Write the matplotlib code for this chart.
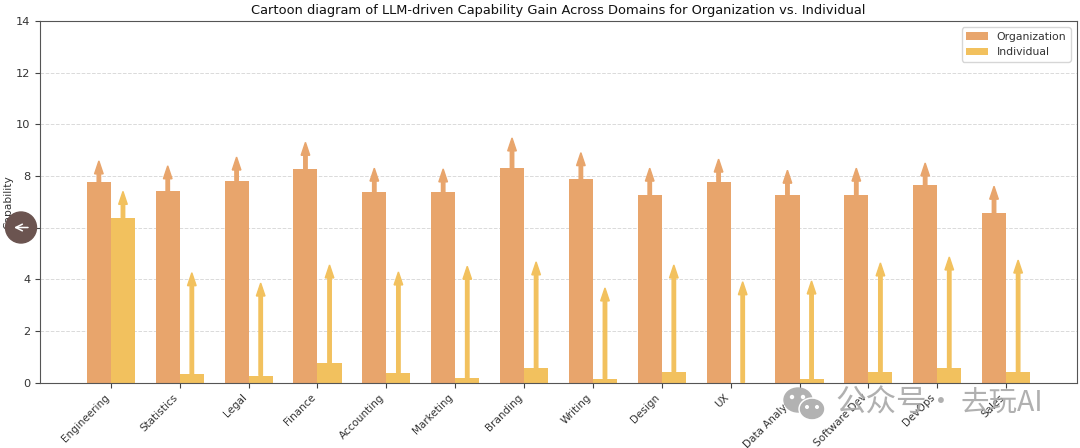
import numpy as np
import matplotlib
matplotlib.use('Agg')
import matplotlib.pyplot as plt
from matplotlib.patches import Circle, Ellipse

domains = ['Engineering', 'Statistics', 'Legal', 'Finance', 'Accounting', 'Marketing', 'Branding',
           'Writing', 'Design', 'UX', 'Data Analysis', 'Software Dev', 'DevOps', 'Sales']

# bar heights and where the arrows end
org_now = [7.75, 7.42, 7.82, 8.27, 7.38, 7.38, 8.30, 7.88, 7.27, 7.78, 7.27, 7.27, 7.65, 6.55]
org_gain = [8.58, 8.39, 8.73, 9.30, 8.30, 8.27, 9.47, 8.90, 8.30, 8.65, 8.22, 8.30, 8.50, 7.60]
ind_now = [6.38, 0.33, 0.27, 0.76, 0.38, 0.18, 0.55, 0.15, 0.42, 0.0, 0.13, 0.42, 0.55, 0.42]
ind_gain = [7.40, 4.25, 3.85, 4.55, 4.28, 4.50, 4.67, 3.66, 4.55, 3.90, 3.93, 4.63, 4.86, 4.74]

org_color = '#E8A56C'
ind_color = '#F2C15E'
bar_w = 0.35

fig = plt.figure(figsize=(10.8, 4.48), dpi=100)
ax = fig.add_axes([40 / 1080, 1 - 382.5 / 448, 1037 / 1080, 361.5 / 448])

x = np.arange(len(domains))
ax.bar(x - bar_w / 2, org_now, bar_w, color=org_color, label='Organization')
ax.bar(x + bar_w / 2, ind_now, bar_w, color=ind_color, label='Individual')

# arrows from top of each bar up to the gained capability
for i in range(len(domains)):
    ax.arrow(x[i] - bar_w / 2, org_now[i], 0, org_gain[i] - org_now[i], width=0.05, head_width=0.125,
             head_length=0.5, length_includes_head=True, color=org_color, zorder=3)
    ax.arrow(x[i] + bar_w / 2, ind_now[i], 0, ind_gain[i] - ind_now[i], width=0.05, head_width=0.125,
             head_length=0.5, length_includes_head=True, color=ind_color, zorder=3)

ax.set_xlim(-1.03, 14.03)
ax.set_ylim(0, 14)
ax.set_yticks(range(0, 15, 2))
ax.set_xticks(x)
ax.set_xticklabels(domains, rotation=45, ha='right')
ax.tick_params(labelsize=7.5, colors='#333333', color='#444444', length=3.5)
ax.tick_params(axis='y', labelsize=8.2)
ax.set_ylabel('Capability', fontsize=7.7, color='#333333', labelpad=2)
ax.set_title('Cartoon diagram of LLM-driven Capability Gain Across Domains for Organization vs. Individual',
             fontsize=9.4, color='#111111', pad=5)
ax.grid(axis='y', linestyle='--', color='#dadada', linewidth=0.7)
ax.set_axisbelow(True)
for s in ax.spines.values():
    s.set_color('#555555')
ax.legend(loc='upper right', fontsize=7.8, labelcolor='#333333', borderaxespad=0.6)

# overlay on the screenshot: back button and watermark
overlay = fig.add_axes([0, 0, 1, 1], facecolor='none')
overlay.set_xlim(0, 1080)
overlay.set_ylim(448, 0)
overlay.axis('off')
overlay.add_patch(Circle((21, 227.5), 15.5, color='#6B5450'))
overlay.annotate('', xy=(14, 227.5), xytext=(28, 227.5),
                 arrowprops=dict(arrowstyle='->', color='white', lw=1.1, mutation_scale=12,
                                 shrinkA=0, shrinkB=0))
overlay.add_patch(Ellipse((798, 400), 28, 24, color='#b2b2b2'))
overlay.add_patch(Ellipse((812, 409), 26, 22, color='white'))
overlay.add_patch(Ellipse((812, 409), 23, 19, color='#b2b2b2'))
for ex, ey, er in [(792, 397, 1.5), (803, 397, 1.5), (807, 407, 1.3), (817, 407, 1.3)]:
    overlay.add_patch(Circle((ex, ey), er, color='white'))
cjk = ['Noto Sans CJK SC', 'DejaVu Sans']
overlay.text(835, 403, '公众号', fontsize=22, color='#a8a8a8', alpha=0.9, va='center', family=cjk)
overlay.text(941, 403, '·', fontsize=20, color='#a8a8a8', alpha=0.9, va='center', ha='center', family=cjk)
overlay.text(960, 403, '去玩AI', fontsize=20.5, color='#a8a8a8', alpha=0.9, va='center', family=cjk)

fig.savefig('out.png', dpi=100)
